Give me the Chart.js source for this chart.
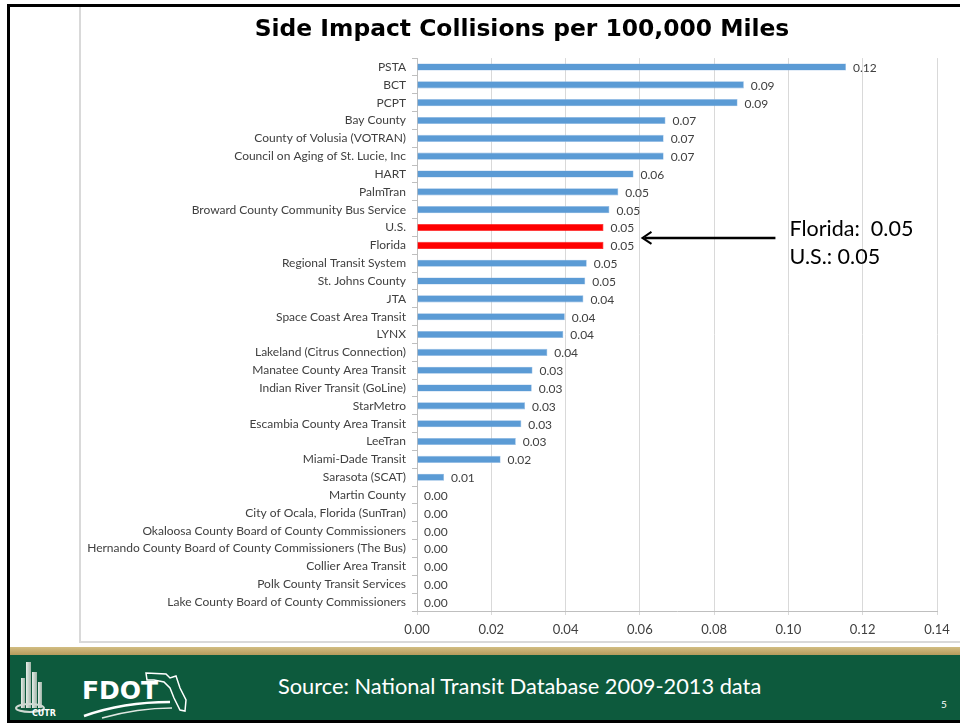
<!DOCTYPE html>
<html>
<head>
<meta charset="utf-8">
<script src="https://cdn.jsdelivr.net/npm/chart.js@4"></script>
<style>
  html, body { margin: 0; padding: 0; background: #fff; }
  #slide { position: relative; width: 960px; height: 723px; overflow: hidden; background: #fff; }
  #frame { position: absolute; left: 79px; top: 6px; width: 881px; height: 637px;
           border-left: 2px solid #d9d9d9; border-bottom: 2px solid #d9d9d9; box-sizing: border-box; }
  #chartBox { position: absolute; left: 79px; top: 6px; width: 881px; height: 637px; }
  #topLine { position: absolute; left: 7px; top: 4px; width: 953px; height: 3px; background: #000; }
  #leftLine { position: absolute; left: 7px; top: 4px; width: 3px; height: 719px; background: #000; }
  #gold { position: absolute; left: 7px; top: 647px; width: 953px; height: 8px;
          background: linear-gradient(#d2bd82, #b59a5c); }
  #footer { position: absolute; left: 7px; top: 655px; width: 953px; height: 65px; background: #0d5a3d; }
  #bottomLine { position: absolute; left: 7px; top: 720px; width: 953px; height: 3px; background: #000; }
  #source { position: absolute; left: 278px; top: 672px; color: #fff; font-family: Lato, "Open Sans", sans-serif;
            font-size: 21.8px; white-space: nowrap; }
  #page { position: absolute; left: 941px; top: 698px; color: #fff; font-family: Lato, sans-serif; font-size: 10px; }
  #logos { position: absolute; left: 12px; top: 658px; }
</style>
</head>
<body>
<div id="slide">
  <div id="frame"></div>
  <div id="chartBox"><canvas id="chart" width="881" height="637"></canvas></div>
  <div id="gold"></div>
  <div id="footer"></div>
  <svg id="logos" width="190" height="62" viewBox="0 0 190 62">
    <defs>
      <linearGradient id="bld" x1="0" x2="1">
        <stop offset="0" stop-color="#e8eee9"/><stop offset="1" stop-color="#9fb4a8"/>
      </linearGradient>
    </defs>
    <rect x="9" y="20" width="4" height="30" fill="url(#bld)"/>
    <rect x="14" y="4" width="5" height="46" fill="url(#bld)"/>
    <rect x="20" y="14" width="5" height="36" fill="url(#bld)"/>
    <rect x="26" y="24" width="4" height="26" fill="url(#bld)"/>
    <ellipse cx="18" cy="50" rx="14" ry="4" fill="none" stroke="#cfd9d2" stroke-width="2"/>
    <text x="20" y="58" fill="#fff" font-family="DejaVu Sans" font-weight="bold" font-size="8">CUTR</text>
    <text x="70" y="41" fill="#fff" font-family="DejaVu Sans" font-weight="bold" font-size="25">FDOT</text>
    <path d="M134 15 L154 16 L158 20 L164 18 L168 30 L174 42 L173 53 L168 52 L162 40 L158 30 L152 24 L142 22 L135 22 Z"
          fill="none" stroke="#fff" stroke-width="1.5"/>
    <path d="M72 58 C100 48 130 44 158 44" fill="none" stroke="#fff" stroke-width="2.5"/>
    <path d="M90 60 C115 53 138 50 160 50" fill="none" stroke="#dfe8e2" stroke-width="1.5"/>
  </svg>
  <div id="source">Source: National Transit Database 2009-2013 data</div>
  <div id="page">5</div>
  <div id="topLine"></div>
  <div id="leftLine"></div>
  <div id="bottomLine"></div>
</div>
<script>
const titleText = 'Side Impact Collisions per 100,000 Miles';

const agencies = [
  'PSTA', 'BCT', 'PCPT', 'Bay County', 'County of Volusia (VOTRAN)',
  'Council on Aging of St. Lucie, Inc', 'HART', 'PalmTran',
  'Broward County Community Bus Service', 'U.S.', 'Florida',
  'Regional Transit System', 'St. Johns County', 'JTA', 'Space Coast Area Transit',
  'LYNX', 'Lakeland (Citrus Connection)', 'Manatee County Area Transit',
  'Indian River Transit (GoLine)', 'StarMetro', 'Escambia County Area Transit',
  'LeeTran', 'Miami-Dade Transit', 'Sarasota (SCAT)', 'Martin County',
  'City of Ocala, Florida (SunTran)', 'Okaloosa County Board of County Commissioners',
  'Hernando County Board of County Commissioners (The Bus)', 'Collier Area Transit',
  'Polk County Transit Services', 'Lake County Board of County Commissioners'
];

const collisions = [
  0.1155, 0.088, 0.0863, 0.0669, 0.0664,
  0.0664, 0.0583, 0.0542,
  0.0518, 0.0502, 0.0502,
  0.0457, 0.0453, 0.0448, 0.0398,
  0.0394, 0.0351, 0.0311,
  0.0309, 0.0291, 0.0281,
  0.0266, 0.0225, 0.0073, 0,
  0, 0,
  0, 0,
  0, 0
];

const xTicks = [0, 0.02, 0.04, 0.06, 0.08, 0.10, 0.12, 0.14];

const highlighted = ['U.S.', 'Florida'];
const noteLines = ['Florida:  0.05', 'U.S.: 0.05'];

const blue = '#5b9bd5';
const red = '#ff0000';

// title in the slide sits a little right of the canvas centre
const titleShift = {
  id: 'titleShift',
  afterLayout(chart) {
    if (chart.titleBlock) {
      chart.titleBlock.left += 14;
      chart.titleBlock.right += 14;
    }
  }
};

// value labels at the end of every bar
const valueLabels = {
  id: 'valueLabels',
  afterDatasetsDraw(chart) {
    const ctx = chart.ctx;
    const meta = chart.getDatasetMeta(0);
    ctx.save();
    ctx.font = '12px Lato, "Open Sans", sans-serif';
    ctx.fillStyle = '#404040';
    ctx.textBaseline = 'middle';
    ctx.textAlign = 'left';
    meta.data.forEach((bar, i) => {
      ctx.fillText(collisions[i].toFixed(2), bar.x + 7, bar.y + 1);
    });
    ctx.restore();
  }
};

// arrow + note pointing at U.S. / Florida
const note = {
  id: 'note',
  afterDraw(chart) {
    const ctx = chart.ctx;
    const xs = chart.scales.x;
    const meta = chart.getDatasetMeta(0);
    const iUS = agencies.indexOf('U.S.');
    const iFL = agencies.indexOf('Florida');
    const yArrow = (meta.data[iUS].y + meta.data[iFL].y) / 2 + 1.5;
    const x0 = xs.getPixelForValue(0.0965);
    const x1 = xs.getPixelForValue(0.0607);
    ctx.save();
    ctx.strokeStyle = '#000';
    ctx.lineWidth = 2.5;
    ctx.beginPath();
    ctx.moveTo(x0, yArrow);
    ctx.lineTo(x1 + 2, yArrow);
    ctx.stroke();
    ctx.lineWidth = 2;
    ctx.beginPath();
    ctx.moveTo(x1 + 9, yArrow - 6);
    ctx.lineTo(x1, yArrow);
    ctx.lineTo(x1 + 9, yArrow + 6);
    ctx.stroke();
    ctx.fillStyle = '#000';
    ctx.font = '21.5px Lato, "Open Sans", sans-serif';
    ctx.textAlign = 'left';
    ctx.textBaseline = 'middle';
    const tx = xs.getPixelForValue(0.1003);
    ctx.fillText(noteLines[0], tx, yArrow - 9);
    ctx.fillText(noteLines[1], tx, yArrow + 19);
    ctx.restore();
  }
};

new Chart(document.getElementById('chart'), {
  type: 'bar',
  data: {
    labels: agencies,
    datasets: [{
      label: 'Side impact collisions',
      data: collisions,
      backgroundColor: agencies.map(a => highlighted.includes(a) ? red : blue),
      borderColor: agencies.map(a => highlighted.includes(a) ? red : '#8fb9e3'),
      borderWidth: 0.6,
      categoryPercentage: 1,
      barPercentage: 0.4
    }]
  },
  options: {
    indexAxis: 'y',
    responsive: false,
    animation: false,
    layout: { padding: { left: 0, right: 23, top: 0, bottom: 0 } },
    plugins: {
      legend: { display: false },
      tooltip: { enabled: false },
      title: {
        display: true,
        text: titleText,
        color: '#000',
        font: { family: '"DejaVu Sans", Verdana, sans-serif', size: 23.4, weight: 'bold' },
        padding: { top: 10, bottom: 14 }
      }
    },
    scales: {
      x: {
        min: 0,
        max: 0.14,
        afterBuildTicks: s => { s.ticks = xTicks.map(v => ({ value: v })); },
        afterFit: s => { s.height = 32; },
        ticks: {
          color: '#404040',
          font: { family: 'Lato, "Open Sans", sans-serif', size: 13 },
          padding: 7,
          callback: v => Number(v).toFixed(2)
        },
        grid: { color: '#d9d9d9', tickLength: 4, lineWidth: 1 },
        border: { color: '#bfbfbf' }
      },
      y: {
        afterFit: s => { s.width = 338; },
        ticks: {
          color: '#404040',
          font: { family: 'Lato, "Open Sans", sans-serif', size: 12 },
          padding: 6,
          autoSkip: false
        },
        grid: { drawOnChartArea: false, color: '#bfbfbf', tickLength: 5 },
        border: { color: '#bfbfbf' }
      }
    }
  },
  plugins: [titleShift, valueLabels, note]
});
</script>
</body>
</html>
